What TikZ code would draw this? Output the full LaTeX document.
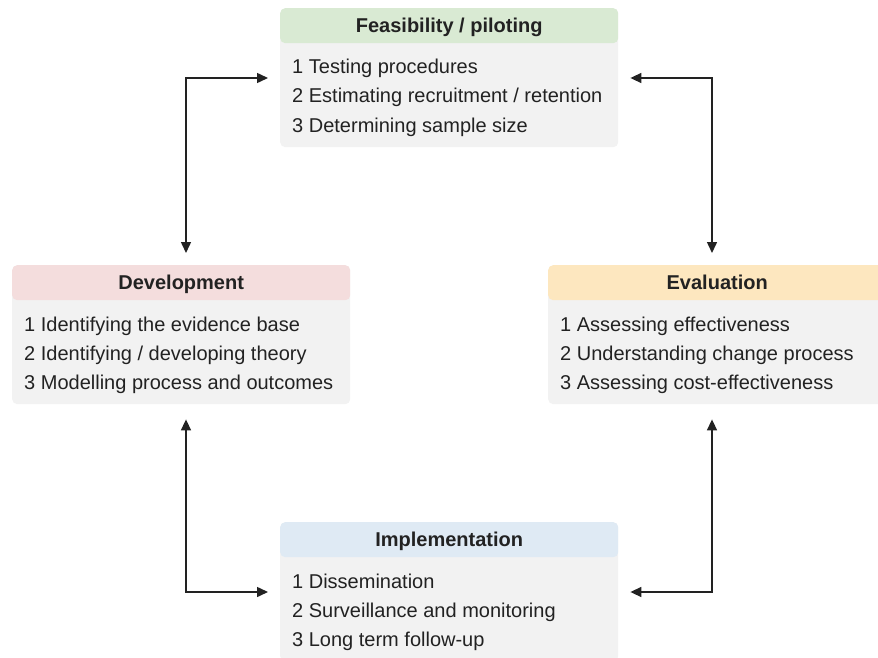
\documentclass[tikz,border=0pt]{standalone}
\usepackage{fontspec}
\setmainfont{Liberation Sans}
\usetikzlibrary{arrows.meta}

\definecolor{bodygray}{HTML}{F2F2F2}
\definecolor{inkdark}{HTML}{222222}
\definecolor{headgreen}{HTML}{D9EAD3}
\definecolor{headpink}{HTML}{F4DDDD}
\definecolor{headyellow}{HTML}{FDE7BF}
\definecolor{headblue}{HTML}{DFEAF4}

\tikzset{
  stagebody/.style={fill=bodygray, draw=none, rounded corners=5pt,
    minimum width=338pt, minimum height=139pt, inner sep=0pt, anchor=north west},
  stagehead/.style={draw=none, rounded corners=5pt, minimum width=338pt,
    minimum height=35pt, inner sep=0pt, anchor=north west},
  stagetitle/.style={anchor=base, inner sep=0pt, text=inkdark,
    font=\fontsize{20}{24}\selectfont\bfseries},
  stageline/.style={anchor=base west, inner sep=0pt, text=inkdark,
    font=\fontsize{20}{24}\selectfont},
  link/.style={draw=inkdark, line width=1.5pt,
    {Triangle[length=11pt,width=10pt]}-{Triangle[length=11pt,width=10pt]}},
}

% one stage: grey body, coloured title bar and three numbered lines
\newcommand\stagebox[8]{%
  \node[stagebody] (#1) at (#2,#3) {};
  \node[stagehead, fill=#4] (#1-head) at (#1.north west) {};
  \node[stagetitle] (#1-title) at ([yshift=-7pt]#1-head.center) {#5};
  \node[stageline] (#1-l1) at ([shift={(12pt,-66pt)}]#1.north west) {1 #6};
  \node[stageline] (#1-l2) at ([shift={(12pt,-95pt)}]#1.north west) {2 #7};
  \node[stageline] (#1-l3) at ([shift={(12pt,-124pt)}]#1.north west) {3 #8};
}

\begin{document}
\begin{tikzpicture}[x=1pt,y=-1pt]
  \useasboundingbox (0,0) rectangle (878,658);
  \clip (0,0) rectangle (878,658);

  \stagebox{feas}{280}{8}{headgreen}{Feasibility / piloting}
    {Testing procedures}{Estimating recruitment / retention}{Determining sample size}
  \stagebox{dev}{12}{265}{headpink}{Development}
    {Identifying the evidence base}{Identifying / developing theory}{Modelling process and outcomes}
  \stagebox{eval}{548}{265}{headyellow}{Evaluation}
    {Assessing effectiveness}{Understanding change process}{Assessing cost-effectiveness}
  \stagebox{impl}{280}{522}{headblue}{Implementation}
    {Dissemination}{Surveillance and monitoring}{Long term follow-up}

  % arrow end points next to each box
  \coordinate (feasL) at ([shift={(-12pt,-70pt)}]feas.north west);
  \coordinate (feasR) at ([shift={(12pt,-70pt)}]feas.north east);
  \coordinate (devT)  at ([shift={(174pt,12pt)}]dev.north west);
  \coordinate (devB)  at ([shift={(174pt,-15pt)}]dev.south west);
  \coordinate (evalT) at ([shift={(164pt,12pt)}]eval.north west);
  \coordinate (evalB) at ([shift={(164pt,-15pt)}]eval.south west);
  \coordinate (implL) at ([shift={(-12pt,-70pt)}]impl.north west);
  \coordinate (implR) at ([shift={(12pt,-70pt)}]impl.north east);

  \draw[link] (feasL) -| (devT);
  \draw[link] (feasR) -| (evalT);
  \draw[link] (devB) |- (implL);
  \draw[link] (evalB) |- (implR);
\end{tikzpicture}
\end{document}
